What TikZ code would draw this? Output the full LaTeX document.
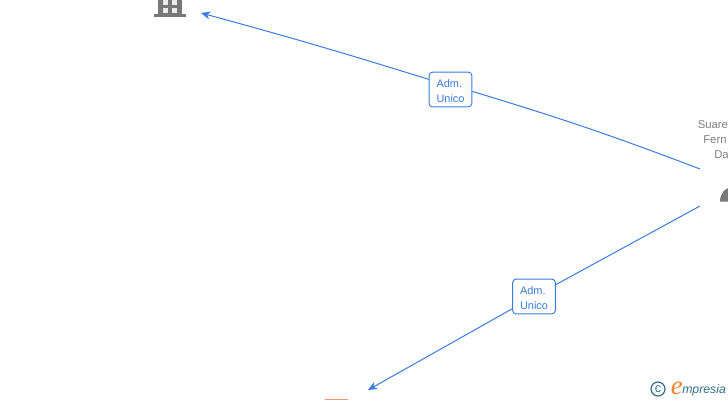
\documentclass[tikz,border=0pt]{standalone}
\usepackage{xcolor}
\usepackage{fontspec}
\setmainfont{Liberation Sans}
\newfontfamily\logofont{Liberation Serif}
\usepackage{tikz}
\usetikzlibrary{positioning,arrows.meta}
\definecolor{linkblue}{RGB}{58,124,222}
\definecolor{icongrey}{RGB}{120,120,120}
\definecolor{namegrey}{RGB}{128,128,128}
\definecolor{logoteal}{RGB}{50,110,140}
\definecolor{logoorange}{RGB}{240,130,40}
\definecolor{stuborange}{RGB}{240,150,110}
\newcommand{\admunico}{\rule{0pt}{7.8pt}Adm.\\Unico}
\tikzset{
  rolebox/.style={draw=linkblue, fill=white, rounded corners=2.5pt, line width=0.7pt, text=linkblue,
    font=\fontsize{8.2}{11.3}\selectfont, align=left, minimum width=32pt, minimum height=26pt, inner sep=0pt},
  link/.style={draw=linkblue, line width=0.75pt},
  linktip/.style={-{Stealth[length=7pt,width=6pt]}},
  personname/.style={text=namegrey, anchor=west, inner sep=0pt, font=\fontsize{8.5}{11}\selectfont},
}
\begin{document}
\begin{tikzpicture}[x=0.75pt, y=-0.75pt]
  \useasboundingbox (0,0) rectangle (728,400);
  % building, cut by the top edge
  \fill[icongrey] (154,14) rectangle (186,16.5);
  \fill[icongrey] (158,0) rectangle (182,14);
  \fill[white!85!icongrey] (163,0) rectangle (167.5,4.5);
  \fill[white!85!icongrey] (172,0) rectangle (177,4.5);
  \fill[white!85!icongrey] (163,7.5) rectangle (167.5,13);
  \fill[white!85!icongrey] (172,7.5) rectangle (177,13);
  % person
  \node[personname] (nameone) at (697.5,125) {Suare};
  \node[personname] (nametwo) at (703,140) {Fern};
  \node[personname] (namethree) at (714,155) {Da};
  \fill[icongrey] (720,201.5) arc (180:270:11 and 14) -- (731,201.5) -- cycle;
  % stub of the lower company
  \fill[stuborange] (325,398.5) rectangle (348,400);
  \coordinate (persontop) at (700,169);
  \coordinate (personlow) at (700,206);
  \coordinate (companytop) at (201,13);
  \coordinate (companylow) at (368,390);
  \node[rolebox] (roletop) at (450.5,89.5) {\admunico};
  \node[rolebox] (rolelow) at (534,296.5) {\admunico};
  \draw[link] (persontop) to[bend right=2] (roletop.-5);
  \draw[link, linktip] (roletop.155) to[bend right=1] (companytop);
  \draw[link] (personlow) -- (rolelow);
  \draw[link, linktip] (rolelow) -- (companylow);
  % logo
  \node[circle, draw=logoteal, line width=0.9pt, inner sep=0pt, minimum size=10.5pt, text=logoteal, font=\fontsize{9.5}{8}\selectfont] (copy) at (658,389) {c};
  \node[text=logoorange, inner sep=0pt, anchor=base west, font=\logofont\fontsize{20}{20}\selectfont\itshape] (logoe) at (670.5,394) {e};
  \node[text=logoteal, inner sep=0pt, anchor=base west, font=\fontsize{9.2}{10}\selectfont\itshape] (logotext) at (682,393.5) {mpresia};
\end{tikzpicture}
\end{document}
